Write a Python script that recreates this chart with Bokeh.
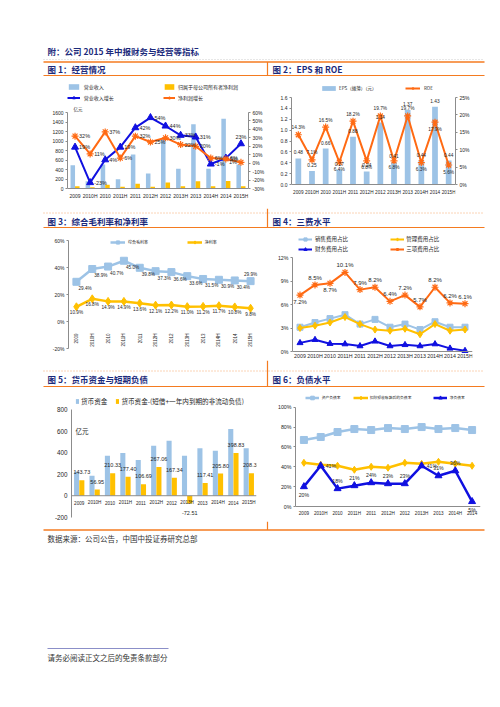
import math
from bokeh.plotting import figure
from bokeh.models import (Range1d, FactorRange, LinearAxis, FixedTicker, PrintfTickFormatter,
                          Legend, LegendItem, Label, Span, ColumnDataSource)
from bokeh.layouts import column, row
from bokeh.transform import dodge
from bokeh.core.properties import value
from bokeh.embed import file_html
from bokeh.resources import INLINE

# ---------------- data ----------------
periods = ["2009", "2010H", "2010", "2011H", "2011", "2012H", "2012",
           "2013H", "2013", "2014H", "2014", "2015H"]
# Fig 1
revenue = [490, 155, 505, 196, 716, 316, 1050, 415, 1354, 415, 1470, 505]
net_profit = [50, 25, 80, 35, 100, 35, 126, 45, 155, 45, 158, 45]
revenue_growth = [19, -23, 4, 19, 42, 54, 44, 33, 31, -1, 6, 23]
profit_growth = [32, 11, 37, 6, 32, 25, 30, 22, 20, 6, 5, 1]
# Fig 2
eps = [0.48, 0.25, 0.66, 0.27, 0.88, 0.24, 1.14, 0.41, 1.37, 0.44, 1.43, 0.44]
roe = [14.3, 7.1, 16.5, 6.4, 18.2, 6.8, 19.7, 6.8, 19.7, 6.3, 17.9, 5.6]
# Fig 3
gross_margin = [29.4, 38.9, 40.7, 45.0, 39.8, 37.3, 36.6, 33.6, 31.5, 30.9, 30.4, 29.9]
net_margin = [10.9, 16.8, 14.9, 14.9, 13.6, 12.1, 12.2, 11.0, 11.2, 11.7, 10.8, 9.8]
# Fig 4
sales_exp = [3.1, 3.7, 4.2, 4.7, 3.5, 4.1, 3.1, 3.5, 2.8, 3.8, 3.1, 3.1]
admin_exp = [3.0, 3.3, 3.7, 4.4, 3.5, 2.8, 2.65, 2.9, 2.2, 3.5, 2.65, 2.8]
fin_exp = [1.1, 1.5, 1.0, 0.95, 0.7, 1.3, 0.7, 0.85, 0.7, 0.95, 0.4, 0.1]
total_exp = [7.2, 8.5, 8.7, 10.1, 7.9, 8.2, 6.4, 7.2, 5.7, 8.2, 6.2, 6.1]
# Fig 5
cash = [224, 186, 373, 397, 332, 466, 512, 373, 441, 419, 621, 441]
net_cash = [143.73, 56.95, 210.33, 177.40, 106.69, 267.06, 167.34, -72.51,
            117.41, 205.80, 398.83, 208.38]
# Fig 6
periods_debt = ["2009", "2010H", "2010", "2011H", "2011", "2012H", "2012",
                "2013H", "2013", "2014H", "2014"]
asset_liab = [67, 70, 75, 78, 77, 79, 78, 80, 78, 79, 77]
adj_liab = [44, 42, 41, 37, 40, 39, 44, 43, 45, 43, 41]
net_debt = [20, 41, 18, 21, 24, 23, 23, 41, 31, 36, 5]

# label placement codes (style)
rg_pos = ["r"] * 11 + ["a"]
pg_pos = ["r"] * 11 + ["l"]
roe_pos = ["a", "a", "a", "b", "a", "b", "a", "b", "a", "b", "b", "b"]
gm_pos = ["br"] * 11 + ["a"]
nm_pos = ["b"] * 12
te_pos = ["b", "a", "b", "a", "a", "a", "a", "a", "a", "a", "a", "a"]
nd_pos = ["b", "r", "a", "a", "a", "a", "a", "r", "a", "a", "b"]

# ---------------- styles ----------------
CJK = "Noto Sans CJK SC"
LAT = "Liberation Sans"
NAVY = "#1B2A7B"
RULE = "#F47B20"
LBLUE = "#9DC3E6"
YELLOW = "#FFC000"
BLUE = "#1010E0"
ORANGE = "#FF6A13"
AXIS = "#8C8C8C"
TXT = "#262626"
PAGE_W = 496


def offsets(codes, d=4, v=7):
    dx, dy, al = [], [], []
    for c in codes:
        if c == "r":
            dx.append(d); dy.append(0); al.append("left")
        elif c == "l":
            dx.append(-d); dy.append(0); al.append("right")
        elif c == "a":
            dx.append(0); dy.append(-v); al.append("center")
        elif c == "b":
            dx.append(0); dy.append(v); al.append("center")
        elif c == "br":
            dx.append(2); dy.append(v); al.append("left")
    return dx, dy, al


def cal_range(va, pa, vb, pb, top, bottom):
    k = (vb - va) / (pb - pa)
    return Range1d(va + (bottom - pa) * k, va + (top - pa) * k)


def chart_fig(box, frame, x_range, y_range):
    x0, y0, x1, y1 = box
    fl, ft, fr, fb = frame
    p = figure(width=x1 - x0, height=y1 - y0, x_range=x_range, y_range=y_range,
               output_backend="svg", toolbar_location=None,
               min_border_left=fl - x0, min_border_right=x1 - fr,
               min_border_top=ft - y0, min_border_bottom=y1 - fb)
    p.outline_line_color = None
    p.grid.visible = False
    p.xaxis.visible = False
    p.background_fill_color = "white"
    p.border_fill_color = "white"
    return p


def style_axis(ax, fs, ticks=None, fmt=None, bounds=None):
    ax.axis_line_color = AXIS
    ax.major_tick_line_color = AXIS
    ax.minor_tick_line_color = None
    ax.major_tick_out = 2
    ax.major_tick_in = 0
    ax.major_label_text_font = LAT
    ax.major_label_text_font_size = f"{fs}px"
    ax.major_label_text_color = TXT
    ax.major_label_standoff = 2
    if ticks is not None:
        ax.ticker = FixedTicker(ticks=ticks)
    if fmt is not None:
        ax.formatter = PrintfTickFormatter(format=fmt)
    if bounds is not None:
        ax.bounds = bounds


def base_axis(p, src, fs, dy, line=True):
    if line:
        p.add_layout(Span(location=0, dimension="width", line_color=AXIS, line_width=1))
    p.text(x="x", y=0, text="x", source=src, y_offset=dy, text_align="center",
           text_baseline="middle", text_font=value(LAT), text_font_size=f"{fs}px",
           text_color=TXT)


def make_legend(items, loc, gw, H, standoff, fs, spacing=0):
    return Legend(items=items, location=loc,
                  orientation="horizontal", padding=0, margin=0, spacing=spacing,
                  glyph_width=gw, glyph_height=H,
                  label_height=H, label_width=1, label_standoff=standoff,
                  label_text_font=CJK, label_text_font_size=f"{fs}px",
                  label_text_color=TXT, label_text_baseline="middle",
                  border_line_color=None, background_fill_alpha=0)


def add_legend(p, frame, entries, yc, fs, H):
    fl, ft, fr, fb = frame
    for label, rs, sx, ex, tx in entries:
        lg = make_legend([LegendItem(label=label, renderers=rs)],
                         (sx - fl, fb - yc - H / 2), max(1, round(ex - sx)), H,
                         max(0, round(tx - ex)), fs)
        p.add_layout(lg, "center")


def labels(p, src, x, y, tcol, dxcol, dycol, alcol, fs, **kw):
    p.text(x=x, y=y, text=tcol, source=src, x_offset=dxcol, y_offset=dycol,
           text_align=alcol, text_baseline="middle", text_font=value(LAT),
           text_font_size=f"{fs}px", text_color=TXT, **kw)


# ================= Fig 1 =================
box1 = (0, 76, 268, 208)
fr1 = (67, 78, 248, 206)
p1 = chart_fig(box1, fr1, FactorRange(*periods),
               cal_range(0, 188, 1600, 112, fr1[1], fr1[3]))
p1.extra_y_ranges = {"r": cal_range(-30, 188, 60, 112, fr1[1], fr1[3])}
style_axis(p1.yaxis[0], 5, ticks=list(range(0, 1601, 200)), fmt="%d", bounds=(0, 1600))
ax1r = LinearAxis(y_range_name="r")
style_axis(ax1r, 5, ticks=list(range(-30, 61, 10)), fmt="%d%%", bounds=(-30, 60))
p1.add_layout(ax1r, "right")
d1 = dict(x=periods, rev=revenue, np_=net_profit, rg=revenue_growth, pg=profit_growth,
          rgl=[f"{v}%" for v in revenue_growth], pgl=[f"{v}%" for v in profit_growth])
d1["rdx"], d1["rdy"], d1["ral"] = offsets(rg_pos)
d1["pdx"], d1["pdy"], d1["pal"] = offsets(pg_pos)
s1 = ColumnDataSource(d1)
b1 = p1.vbar(x=dodge("x", -0.15, range=p1.x_range), top="rev", width=0.3, source=s1,
             fill_color=LBLUE, line_color=None)
b2 = p1.vbar(x=dodge("x", 0.15, range=p1.x_range), top="np_", width=0.3, source=s1,
             fill_color=YELLOW, line_color=None)
l1 = p1.line("x", "rg", source=s1, y_range_name="r", line_color=BLUE, line_width=2)
m1 = p1.scatter("x", "rg", source=s1, y_range_name="r", marker="triangle", size=7,
                fill_color=BLUE, line_color=BLUE)
l2 = p1.line("x", "pg", source=s1, y_range_name="r", line_color=ORANGE, line_width=2)
m2 = p1.scatter("x", "pg", source=s1, y_range_name="r", marker="asterisk", size=7,
                line_color=ORANGE, line_width=1.2)
labels(p1, s1, "x", "rg", "rgl", "rdx", "rdy", "ral", 5.5, y_range_name="r")
labels(p1, s1, "x", "pg", "pgl", "pdx", "pdy", "pal", 5.5, y_range_name="r")
base_axis(p1, s1, 5, 7.7)
p1.add_layout(Label(x=6, y=fr1[3] - 108, x_units="screen", y_units="screen", text="亿元",
                    text_font=CJK, text_font_size="4.5px", text_color=TXT,
                    text_baseline="middle"))
add_legend(p1, fr1, [("营业收入", [b1], 66.7, 80, 84.3),
                     ("归属于母公司所有者净利润", [b2], 163, 175, 178.3)], 86.7, 5, 7)
add_legend(p1, fr1, [("营业收入增长", [l1, m1], 66.7, 80, 84.3),
                     ("净利润增长", [l2, m2], 163, 175, 178.3)], 97.7, 5, 7)

# ================= Fig 2 =================
box2 = (268, 76, PAGE_W, 208)
fr2 = (291, 78, 455, 206)
p2 = chart_fig(box2, fr2, FactorRange(*periods),
               cal_range(0, 184, 1.6, 97, fr2[1], fr2[3]))
p2.extra_y_ranges = {"r": cal_range(0, 184, 25, 97, fr2[1], fr2[3])}
style_axis(p2.yaxis[0], 5, ticks=[i * 0.2 for i in range(9)], fmt="%.1f", bounds=(0, 1.6))
ax2r = LinearAxis(y_range_name="r")
style_axis(ax2r, 5, ticks=list(range(0, 26, 5)), fmt="%d%%", bounds=(0, 25))
p2.add_layout(ax2r, "right")
d2 = dict(x=periods, eps=eps, roe=roe, epsl=[f"{v:.2f}" for v in eps],
          roel=[f"{v:.1f}%" for v in roe])
d2["edx"], d2["edy"], d2["eal"] = offsets(["a"] * 12, v=6)
d2["rdx"], d2["rdy"], d2["ral"] = offsets(roe_pos, v=7)
s2 = ColumnDataSource(d2)
b3 = p2.vbar(x="x", top="eps", width=0.42, source=s2, fill_color=LBLUE, line_color=None)
l3 = p2.line("x", "roe", source=s2, y_range_name="r", line_color=ORANGE, line_width=2)
m3 = p2.scatter("x", "roe", source=s2, y_range_name="r", marker="asterisk", size=7,
                line_color=ORANGE, line_width=1.2)
labels(p2, s2, "x", "eps", "epsl", "edx", "edy", "eal", 4.8)
labels(p2, s2, "x", "roe", "roel", "rdx", "rdy", "ral", 4.8, y_range_name="r")
base_axis(p2, s2, 4.7, 7.7)
add_legend(p2, fr2, [("EPS（摊薄）（元）", [b3], 320, 337, 339.3),
                     ("ROE", [l3, m3], 405, 420, 423.7)], 88.3, 4.5, 6)

# ================= Fig 3 =================
box3 = (0, 228, 268, 360)
fr3 = (68, 230, 258, 358)
p3 = chart_fig(box3, fr3, FactorRange(*periods),
               cal_range(-20, 348, 60, 240, fr3[1], fr3[3]))
style_axis(p3.yaxis[0], 5, ticks=[-20, 0, 20, 40, 60], fmt="%d%%", bounds=(-20, 60))
d3 = dict(x=periods, gm=gross_margin, nm=net_margin,
          gml=[f"{v:.1f}%" for v in gross_margin], nml=[f"{v:.1f}%" for v in net_margin])
d3["gdx"], d3["gdy"], d3["gal"] = offsets(gm_pos, v=7)
d3["ndx"], d3["ndy"], d3["nal"] = offsets(nm_pos, v=6)
s3 = ColumnDataSource(d3)
l4 = p3.line("x", "gm", source=s3, line_color=LBLUE, line_width=2.5)
m4 = p3.scatter("x", "gm", source=s3, marker="square", size=7, fill_color=LBLUE,
                line_color=LBLUE)
l5 = p3.line("x", "nm", source=s3, line_color=YELLOW, line_width=2.5)
m5 = p3.scatter("x", "nm", source=s3, marker="diamond", size=8, fill_color=YELLOW,
                line_color=YELLOW)
labels(p3, s3, "x", "gm", "gml", "gdx", "gdy", "gal", 4.7)
labels(p3, s3, "x", "nm", "nml", "ndx", "ndy", "nal", 4.7)
p3.text(x="x", y=0, text="x", source=s3, angle=math.pi / 2, y_offset=12,
        text_align="right", text_baseline="middle", text_font=value(LAT),
        text_font_size="4.5px", text_color=TXT)
add_legend(p3, fr3, [("综合毛利率", [l4, m4], 110, 125, 128.3),
                     ("净利率", [l5, m5], 186.7, 201.7, 204.3)], 242.3, 4, 8)

# ================= Fig 4 =================
box4 = (268, 228, PAGE_W, 360)
fr4 = (292, 230, 472, 358)
p4 = chart_fig(box4, fr4, FactorRange(*periods),
               cal_range(0, 351, 12, 257, fr4[1], fr4[3]))
style_axis(p4.yaxis[0], 5.3, ticks=[0, 3, 6, 9, 12], fmt="%d%%", bounds=(0, 12))
d4 = dict(x=periods, se=sales_exp, ae=admin_exp, fe=fin_exp, te=total_exp,
          tel=[f"{v:.1f}%" for v in total_exp])
d4["tdx"], d4["tdy"], d4["tal"] = offsets(te_pos, v=7)
s4 = ColumnDataSource(d4)
l6 = p4.line("x", "se", source=s4, line_color=LBLUE, line_width=2)
m6 = p4.scatter("x", "se", source=s4, marker="square", size=6, fill_color=LBLUE,
                line_color=LBLUE)
l7 = p4.line("x", "ae", source=s4, line_color=YELLOW, line_width=2)
m7 = p4.scatter("x", "ae", source=s4, marker="diamond", size=7, fill_color=YELLOW,
                line_color=YELLOW)
l8 = p4.line("x", "fe", source=s4, line_color=BLUE, line_width=2)
m8 = p4.scatter("x", "fe", source=s4, marker="triangle", size=6, fill_color=BLUE,
                line_color=BLUE)
l9 = p4.line("x", "te", source=s4, line_color=ORANGE, line_width=2)
m9 = p4.scatter("x", "te", source=s4, marker="asterisk", size=7, line_color=ORANGE,
                line_width=1.2)
labels(p4, s4, "x", "te", "tel", "tdx", "tdy", "tal", 6)
base_axis(p4, s4, 5.3, 4)
add_legend(p4, fr4, [("销售费用占比", [l6, m6], 298, 312, 314.7),
                     ("管理费用占比", [l7, m7], 390.3, 404.7, 407)], 238.7, 5.5, 8)
add_legend(p4, fr4, [("财务费用占比", [l8, m8], 298, 312, 314.7),
                     ("三项费用占比", [l9, m9], 390.3, 404.7, 407)], 249, 5.5, 8)

# ================= Fig 5 =================
box5 = (0, 387, 268, 521)
fr5 = (71, 389, 256, 519)
p5 = chart_fig(box5, fr5, FactorRange(*periods),
               cal_range(-200, 516.7, 800, 409.3, fr5[1], fr5[3]))
p5.x_range.range_padding = 0
style_axis(p5.yaxis[0], 6.3, ticks=list(range(-200, 801, 200)), fmt="%d", bounds=(-200, 800))
p5.yaxis[0].major_tick_line_color = None
d5 = dict(x=periods, cash=cash, nc=net_cash, ncl=[f"{v:.2f}" for v in net_cash],
          ndy=[-8 if v >= 0 else 9 for v in net_cash])
s5 = ColumnDataSource(d5)
b4 = p5.vbar(x=dodge("x", -0.17, range=p5.x_range), top="cash", width=0.33, source=s5,
             fill_color=LBLUE, line_color=None)
b5 = p5.vbar(x=dodge("x", 0.17, range=p5.x_range), top="nc", width=0.33, source=s5,
             fill_color=YELLOW, line_color=None)
p5.text(x=dodge("x", 0.17, range=p5.x_range), y="nc", text="ncl", source=s5,
        y_offset="ndy", text_align="center", text_baseline="middle",
        text_font=value(LAT), text_font_size="5.5px", text_color=TXT)
base_axis(p5, s5, 4.6, 7)
p5.add_layout(Label(x=4, y=fr5[3] - 430, x_units="screen", y_units="screen", text="亿元",
                    text_font=CJK, text_font_size="6.5px", text_color=TXT,
                    text_baseline="middle"))
leg5 = make_legend([LegendItem(label="货币资金", renderers=[b4]),
                    LegendItem(label="货币资金-(短借+一年内到期的非流动负债)", renderers=[b5])],
                   (75 - fr5[0], fr5[3] - 403.3 - 3), 4, 6, 2, 6.6, spacing=8)
p5.add_layout(leg5, "center")

# ================= Fig 6 =================
box6 = (268, 387, PAGE_W, 521)
fr6 = (295, 389, 480, 519)
p6 = chart_fig(box6, fr6, FactorRange(*periods_debt),
               cal_range(0, 506, 100, 406.7, fr6[1], fr6[3]))
style_axis(p6.yaxis[0], 5.3, ticks=list(range(0, 101, 20)), fmt="%d%%", bounds=(0, 100))
d6 = dict(x=periods_debt, al=asset_liab, aj=adj_liab, nd=net_debt,
          ndl=[f"{v}%" for v in net_debt])
d6["ndx"], d6["ndy"], d6["nal"] = offsets(nd_pos, d=5, v=8)
s6 = ColumnDataSource(d6)
l10 = p6.line("x", "al", source=s6, line_color=LBLUE, line_width=2.5)
m10 = p6.scatter("x", "al", source=s6, marker="square", size=7, fill_color=LBLUE,
                 line_color=LBLUE)
l11 = p6.line("x", "aj", source=s6, line_color=YELLOW, line_width=2.5)
m11 = p6.scatter("x", "aj", source=s6, marker="diamond", size=7, fill_color=YELLOW,
                 line_color=YELLOW)
l12 = p6.line("x", "nd", source=s6, line_color=BLUE, line_width=2.5)
m12 = p6.scatter("x", "nd", source=s6, marker="triangle", size=7, fill_color=BLUE,
                 line_color=BLUE)
labels(p6, s6, "x", "nd", "ndl", "ndx", "ndy", "nal", 5.2)
base_axis(p6, s6, 4.6, 6.7)
add_legend(p6, fr6, [("资产负债率", [l10, m10], 304.7, 318.7, 322),
                     ("扣除预收账款后的负债率", [l11, m11], 352.7, 368, 370.3),
                     ("净负债率", [l12, m12], 432.7, 447, 450.3)], 397.7, 3.8, 9)


# ================= page decoration =================
def deco(y0, y1):
    p = figure(width=PAGE_W, height=y1 - y0, x_range=Range1d(0, PAGE_W),
               y_range=Range1d(y1, y0),
               output_backend="svg", toolbar_location=None,
               x_axis_location=None, y_axis_location=None,
               min_border_left=0, min_border_right=0, min_border_top=0, min_border_bottom=0)
    p.grid.visible = False
    p.outline_line_color = None
    return p


def htext(p, x, y, t, fs, color=NAVY, bold=True):
    p.text(x=[x], y=[y], text=[t], text_font=value(CJK), text_font_size=f"{fs}px",
           text_font_style="bold" if bold else "normal", text_color=color,
           text_baseline="middle", text_align="left")


def hline(p, y, x0=43, x1=484, color=RULE, w=1.5, dash="solid"):
    p.segment(x0=[x0], y0=[y], x1=[x1], y1=[y], line_color=color, line_width=w,
              line_dash=dash)


def vline(p, x, y0, y1):
    p.segment(x0=[x], y0=[y0], x1=[x], y1=[y1], line_color=RULE, line_width=1.2)


hA = deco(0, 76)
htext(hA, 47, 50, "附：公司 2015 年中报财务与经营等指标", 8.5)
hline(hA, 59, color="#CFCFCF", w=1, dash="1 2")
hline(hA, 61.5)
htext(hA, 47, 68.5, "图 1：经营情况", 8.5)
htext(hA, 272, 68.5, "图 2：EPS 和 ROE", 8.5)
hline(hA, 75.3)
vline(hA, 267, 61.5, 76)

hB = deco(208, 228)
vline(hB, 267, 208, 228)
hline(hB, 212.5, color="#F7A86E", w=1, dash="1 2")
htext(hB, 47, 220.3, "图 3：综合毛利率和净利率", 8.5)
htext(hB, 272, 220.3, "图 4：三费水平", 8.5)
hline(hB, 227.2)

hC = deco(360, 387)
vline(hC, 267, 360, 387)
hline(hC, 370.5, color="#F7A86E", w=1, dash="1 2")
htext(hC, 47, 378.3, "图 5：货币资金与短期负债", 8.5)
htext(hC, 272, 378.3, "图 6：负债水平", 8.5)
hline(hC, 386.2)

ft = deco(521, 705)
vline(ft, 267, 521, 529.5)
hline(ft, 529.5)
htext(ft, 47, 537.8, "数据来源：公司公告，中国中投证券研究总部", 7.5, color="#333333", bold=False)
hline(ft, 648, x0=47, x1=168, color="#8B8FC8", w=1.2)
htext(ft, 47, 656.5, "请务必阅读正文之后的免责条款部分", 7.5, color="#333333", bold=False)

layout = column(hA, row(p1, p2), hB, row(p3, p4), hC, row(p5, p6), ft)

open("out.html", "w").write(file_html(layout, INLINE))
